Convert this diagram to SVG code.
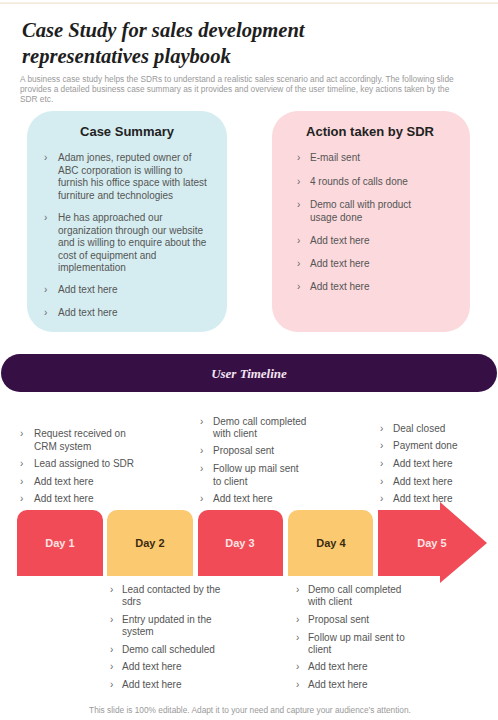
<svg xmlns="http://www.w3.org/2000/svg" width="498" height="720" viewBox="0 0 498 720">
<style>
.title{font-family:"Liberation Serif",serif;font-weight:bold;font-style:italic;font-size:20.6px;fill:#1e1e1e}
.desc{font-family:"Liberation Sans",Arial,sans-serif;font-size:8.3px;fill:#9a9a9a}
.hd{font-family:"Liberation Sans",Arial,sans-serif;font-weight:bold;font-size:13px;fill:#222;text-anchor:middle}
.b{font-family:"Liberation Sans",Arial,sans-serif;font-size:10px;fill:#555}
.ch{font-family:"Liberation Sans",Arial,sans-serif;font-size:10px;fill:#666}
.day{font-family:"Liberation Sans",Arial,sans-serif;font-weight:bold;font-size:11px;text-anchor:middle}
.red{fill:#f14b57}
.yel{fill:#fbca70}
.foot{font-family:"Liberation Sans",Arial,sans-serif;font-size:8.3px;fill:#9a9a9a;text-anchor:middle}
</style>
<rect x="0" y="0" width="498" height="720" fill="#ffffff"/>
<rect x="0" y="2.5" width="498" height="1.2" fill="#efe2cc"/>
<g id="header">
<text class="title" x="22" y="37">Case Study for sales development</text>
<text class="title" x="22" y="63">representatives playbook</text>
<text class="desc" x="20" y="82">A business case study helps the SDRs to understand a realistic sales scenario and act accordingly. The following slide</text>
<text class="desc" x="20" y="92">provides a detailed business case summary as it provides and overview  of the user timeline, key actions taken by the</text>
<text class="desc" x="20" y="102">SDR etc.</text>
</g>
<g id="case-summary">
<rect x="27" y="111" width="200" height="221" rx="26" fill="#d5edf0"/>
<text class="hd" x="127" y="136">Case Summary</text>
<g class="b">
<text class="ch" x="44" y="161">›</text><text x="58" y="161">Adam jones, reputed owner of</text>
<text x="58" y="173.5">ABC corporation is willing to</text>
<text x="58" y="186">furnish his office space with latest</text>
<text x="58" y="198.5">furniture and technologies</text>
<text class="ch" x="44" y="221">›</text><text x="58" y="221">He has approached our</text>
<text x="58" y="233.5">organization through our website</text>
<text x="58" y="246">and is willing to enquire about the</text>
<text x="58" y="258.5">cost of equipment and</text>
<text x="58" y="271">implementation</text>
<text class="ch" x="44" y="293">›</text><text x="58" y="293">Add text here</text>
<text class="ch" x="44" y="316">›</text><text x="58" y="316">Add text here</text>
</g>
</g>
<g id="action-sdr">
<rect x="272" y="111" width="198" height="221" rx="26" fill="#fbd9dc"/>
<text class="hd" x="370" y="136">Action taken by SDR</text>
<g class="b">
<text class="ch" x="297" y="161">›</text><text x="310" y="161">E-mail sent</text>
<text class="ch" x="297" y="185">›</text><text x="310" y="185">4 rounds of calls done</text>
<text class="ch" x="297" y="208">›</text><text x="310" y="208">Demo call with product</text>
<text x="310" y="220.5">usage done</text>
<text class="ch" x="297" y="244">›</text><text x="310" y="244">Add text here</text>
<text class="ch" x="297" y="267">›</text><text x="310" y="267">Add text here</text>
<text class="ch" x="297" y="290">›</text><text x="310" y="290">Add text here</text>
</g>
</g>
<g id="user-timeline">
<rect x="1" y="354" width="496" height="38" rx="19" fill="#360f45"/>
<text x="249" y="378" text-anchor="middle" font-family="Liberation Serif,serif" font-weight="bold" font-style="italic" font-size="13px" fill="#f3e3f0">User Timeline</text>
</g>
<g id="day1">
<path class="red" d="M17 576 V520 a10 10 0 0 1 10 -10 H93 a10 10 0 0 1 10 10 V576 Z"/>
<text class="day" x="60" y="547" fill="#fde3e3">Day 1</text>
</g>
<g id="day2">
<path class="yel" d="M107 576 V520 a10 10 0 0 1 10 -10 H183 a10 10 0 0 1 10 10 V576 Z"/>
<text class="day" x="150" y="547" fill="#3b2a12">Day 2</text>
</g>
<g id="day3">
<path class="red" d="M198 576 V520 a10 10 0 0 1 10 -10 H273 a10 10 0 0 1 10 10 V576 Z"/>
<text class="day" x="240" y="547" fill="#fde3e3">Day 3</text>
</g>
<g id="day4">
<path class="yel" d="M288 576 V520 a10 10 0 0 1 10 -10 H363 a10 10 0 0 1 10 10 V576 Z"/>
<text class="day" x="331" y="547" fill="#3b2a12">Day 4</text>
</g>
<g id="day5">
<path class="red" d="M378 510 H440 V502 L487 543 L440 583 V576 H378 Z"/>
<text class="day" x="432" y="547" fill="#fde3e3">Day 5</text>
</g>
<g id="day1-notes" class="b">
<text class="ch" x="20" y="437">›</text><text x="34" y="437">Request received on</text>
<text x="34" y="450">CRM system</text>
<text class="ch" x="20" y="467">›</text><text x="34" y="467">Lead assigned to SDR</text>
<text class="ch" x="20" y="485">›</text><text x="34" y="485">Add text here</text>
<text class="ch" x="20" y="502">›</text><text x="34" y="502">Add text here</text>
</g>
<g id="day3-notes" class="b">
<text class="ch" x="200" y="425">›</text><text x="213" y="425">Demo call completed</text>
<text x="213" y="437">with client</text>
<text class="ch" x="200" y="454">›</text><text x="213" y="454">Proposal sent</text>
<text class="ch" x="200" y="472">›</text><text x="213" y="472">Follow up mail sent</text>
<text x="213" y="485">to client</text>
<text class="ch" x="200" y="502">›</text><text x="213" y="502">Add text here</text>
</g>
<g id="day5-notes" class="b">
<text class="ch" x="380" y="432">›</text><text x="393" y="432">Deal closed</text>
<text class="ch" x="380" y="449">›</text><text x="393" y="449">Payment done</text>
<text class="ch" x="380" y="467">›</text><text x="393" y="467">Add text here</text>
<text class="ch" x="380" y="485">›</text><text x="393" y="485">Add text here</text>
<text class="ch" x="380" y="502">›</text><text x="393" y="502">Add text here</text>
</g>
<g id="day2-notes" class="b">
<text class="ch" x="110" y="593">›</text><text x="122" y="593">Lead contacted by the</text>
<text x="122" y="605">sdrs</text>
<text class="ch" x="110" y="623">›</text><text x="122" y="623">Entry updated in the</text>
<text x="122" y="635">system</text>
<text class="ch" x="110" y="653">›</text><text x="122" y="653">Demo call scheduled</text>
<text class="ch" x="110" y="670">›</text><text x="122" y="670">Add text here</text>
<text class="ch" x="110" y="688">›</text><text x="122" y="688">Add text here</text>
</g>
<g id="day4-notes" class="b">
<text class="ch" x="296" y="593">›</text><text x="308" y="593">Demo call completed</text>
<text x="308" y="605">with client</text>
<text class="ch" x="296" y="623">›</text><text x="308" y="623">Proposal sent</text>
<text class="ch" x="296" y="641">›</text><text x="308" y="641">Follow up mail sent to</text>
<text x="308" y="653">client</text>
<text class="ch" x="296" y="670">›</text><text x="308" y="670">Add text here</text>
<text class="ch" x="296" y="688">›</text><text x="308" y="688">Add text here</text>
</g>
<g id="connectors"></g>
<text class="foot" x="250" y="713">This slide is 100% editable. Adapt it to your need and capture your audience’s attention.</text>
</svg>
